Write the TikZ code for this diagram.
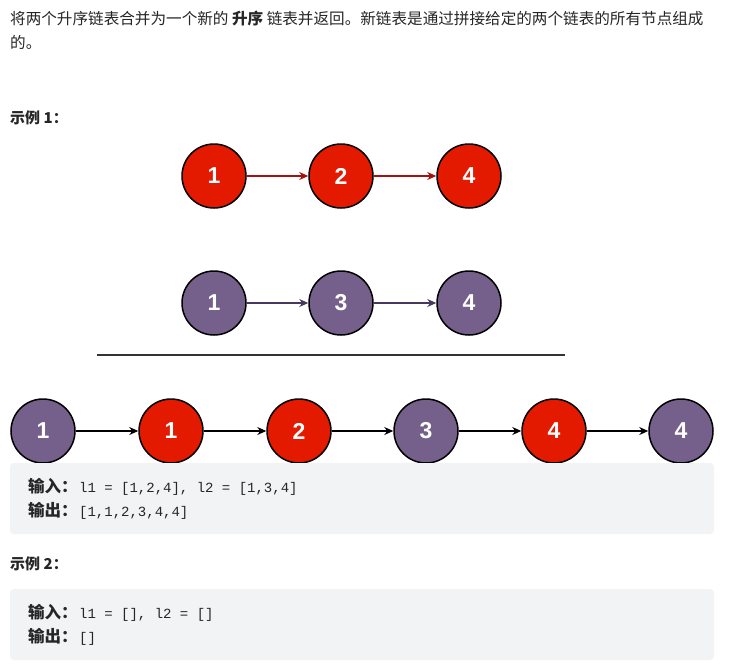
\documentclass[tikz,border=0pt]{standalone}
\usepackage{fontspec}
\setmainfont{Liberation Sans}
\newfontfamily\cjk{Noto Sans CJK SC}
\newfontfamily\codefont{Liberation Mono}
\usetikzlibrary{arrows.meta}
\definecolor{nred}{RGB}{227,25,0}
\definecolor{npurple}{RGB}{116,96,138}
\definecolor{ared}{RGB}{168,16,16}
\definecolor{apurple}{RGB}{72,56,94}
\definecolor{boxbg}{RGB}{242,243,245}
\definecolor{txt}{RGB}{38,38,38}
\newcommand{\lbl}[1]{\makebox[51pt][l]{\cjk\bfseries\fontsize{16.5}{16.5}\selectfont #1}}
\tikzset{
  lnode/.style={circle,draw=black,line width=1.5pt,minimum size=64pt,inner sep=0pt,
    text=white,font=\fontsize{23}{23}\selectfont\bfseries},
  rnode/.style={lnode,fill=nred},
  pnode/.style={lnode,fill=npurple},
  arr/.style={line width=1.4pt,-{Stealth[length=9pt,width=8pt]}},
  tline/.style={anchor=base west,inner sep=0pt,text=txt,font=\cjk\fontsize{15.6}{15.6}\selectfont},
  hline/.style={anchor=base west,inner sep=0pt,text=txt,font=\cjk\bfseries\fontsize{15}{15}\selectfont},
  codeline/.style={anchor=base west,inner sep=0pt,text=txt,font=\fontsize{14}{14}\selectfont},
  codebox/.style={fill=boxbg,rounded corners=4pt,draw=none}
}
\begin{document}
\begin{tikzpicture}[x=1pt,y=-1pt]
\useasboundingbox[fill=white] (0,0) rectangle (731,670);
% title
\node[tline] (t1) at (10,24) {将两个升序链表合并为一个新的 {\bfseries 升序} 链表并返回。新链表是通过拼接给定的两个链表的所有节点组成};
\node[tline] (t2) at (10,48) {的。};
\node[hline] (ex1) at (10,123) {示例 1：};
% list 1
\node[rnode] (a1) at (214,176) {1};
\node[rnode] (a2) at (341,176) {2};
\node[rnode] (a3) at (469,176) {4};
\draw[arr,ared] (a1) -- (a2);
\draw[arr,ared] (a2) -- (a3);
% list 2
\node[pnode] (b1) at (214,303) {1};
\node[pnode] (b2) at (341,303) {3};
\node[pnode] (b3) at (469,303) {4};
\draw[arr,apurple] (b1) -- (b2);
\draw[arr,apurple] (b2) -- (b3);
% separator
\draw[line width=2pt,color={rgb,255:red,51;green,51;blue,51}] (97,355) -- (565,355);
% merged
\node[pnode] (c1) at (43,431) {1};
\node[rnode] (c2) at (171,431) {1};
\node[rnode] (c3) at (299,431) {2};
\node[pnode] (c4) at (426,431) {3};
\node[rnode] (c5) at (554,431) {4};
\node[pnode] (c6) at (681,431) {4};
\foreach \i/\j in {c1/c2,c2/c3,c3/c4,c4/c5,c5/c6}{\draw[arr,black] (\i) -- (\j);}
% box 1
\fill[codebox] (10,463) rectangle (714,534);
\node[codeline] (in1) at (28,492) {\lbl{输入：}{\codefont l1 = [1,2,4], l2 = [1,3,4]}};
\node[codeline] (out1) at (28,516) {\lbl{输出：}{\codefont [1,1,2,3,4,4]}};
\node[hline] (ex2) at (10,569) {示例 2：};
% box 2
\fill[codebox] (10,589) rectangle (714,660);
\node[codeline] (in2) at (28,618) {\lbl{输入：}{\codefont l1 = [], l2 = []}};
\node[codeline] (out2) at (28,642) {\lbl{输出：}{\codefont []}};
\end{tikzpicture}
\end{document}
